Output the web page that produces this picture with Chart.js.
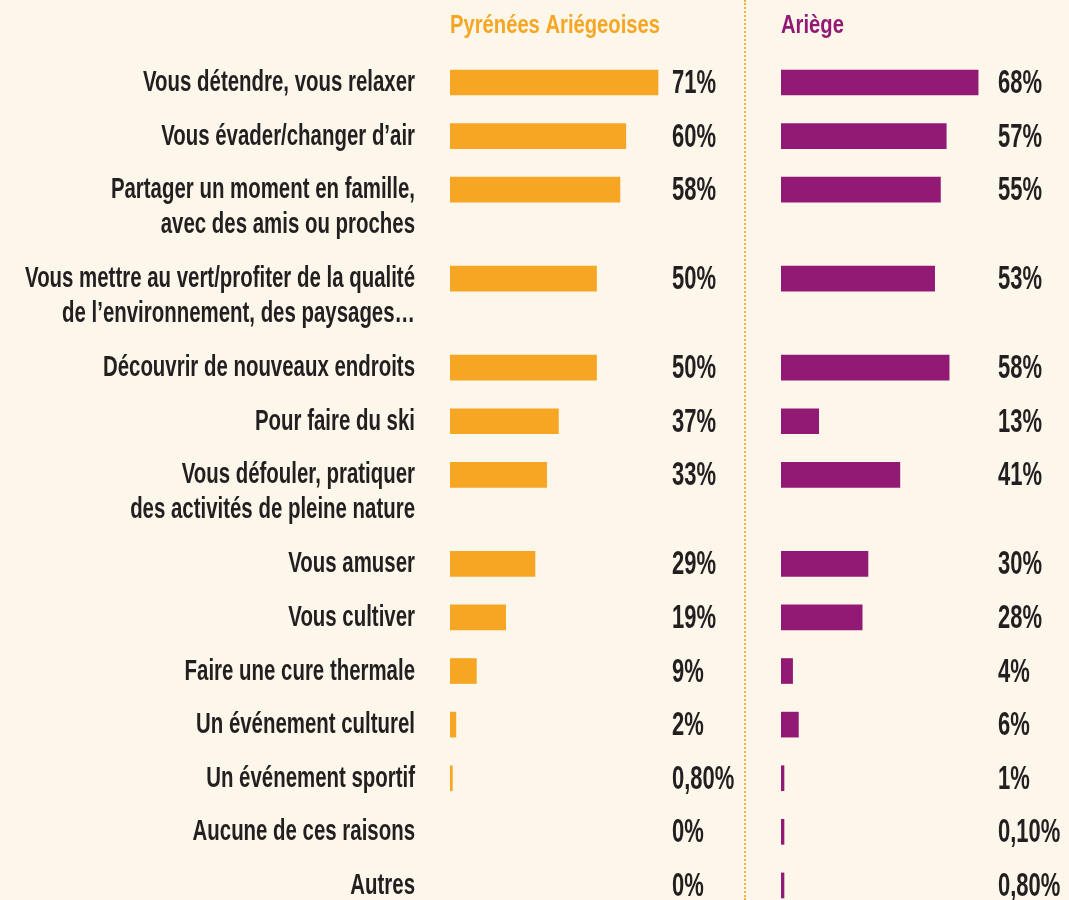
<!DOCTYPE html>
<html>
<head>
<meta charset="utf-8">
<script src="https://cdn.jsdelivr.net/npm/chart.js@4"></script>
<style>
	html, body { margin: 0; padding: 0; background: #fdf6ea; }
	#wrap { position: relative; width: 1069px; height: 900px; overflow: hidden; background: #fdf6ea; }
	#left { position: absolute; left: 0; top: 0; }
	#right { position: absolute; left: 745px; top: 0; }
	#sep { position: absolute; left: 744px; top: 0; height: 900px; width: 0; border-left: 2px dotted #f7b143; }
</style>
</head>
<body>
<div id="wrap">
	<canvas id="left" width="744" height="900"></canvas>
	<div id="sep"></div>
	<canvas id="right" width="324" height="900"></canvas>
</div>
<script>
const categories = [
	"Vous détendre, vous relaxer",
	"Vous évader/changer d’air",
	"Partager un moment en famille,\navec des amis ou proches",
	"Vous mettre au vert/profiter de la qualité\nde l’environnement, des paysages…",
	"Découvrir de nouveaux endroits",
	"Pour faire du ski",
	"Vous défouler, pratiquer\ndes activités de pleine nature",
	"Vous amuser",
	"Vous cultiver",
	"Faire une cure thermale",
	"Un événement culturel",
	"Un événement sportif",
	"Aucune de ces raisons",
	"Autres",
];
const pyreneesValues = [71, 60, 58, 50, 50, 37, 33, 29, 19, 9, 2, 0.8, 0, 0];
const ariegeValues = [68, 57, 55, 53, 58, 13, 41, 30, 28, 4, 6, 1, 0.1, 0.8];
const seriesNames = ["Pyrénées Ariégeoises", "Ariège"];

const orange = "#f6a623";
const purple = "#931a74";
const textColor = "#231f20";

// rows with a two-line label take more room
const rowPx = 53.6;
const firstRowY = 82.5;
const extraLine = 0.66;
const rowPos = [];
categories.forEach((c, i) => {
	if (i === 0) {
		rowPos.push(0);
	} else {
		const prevLines = categories[i - 1].split("\n").length;
		rowPos.push(rowPos[i - 1] + 1 + extraLine * (prevLines - 1));
	}
});

// condensed text: no condensed font installed, so squeeze a normal one
const labelFont = "bold 29px 'Liberation Sans', Arial, sans-serif";
const valueFont = "bold 33px 'Liberation Sans', Arial, sans-serif";
const headFont = "bold 25px 'Liberation Sans', Arial, sans-serif";
const measureCtx = document.createElement("canvas").getContext("2d");
function fitScale(font, text, width) {
	measureCtx.font = font;
	return width / measureCtx.measureText(text).width;
}
const labelScale = fitScale(labelFont, "Vous détendre, vous relaxer", 272);
const valueScale = fitScale(valueFont, "71%", 44);
const headScale = fitScale(headFont, "Pyrénées Ariégeoises", 210);

function drawText(ctx, text, x, y, font, sx, align, color) {
	ctx.save();
	ctx.font = font;
	ctx.fillStyle = color;
	ctx.textAlign = align;
	ctx.textBaseline = "alphabetic";
	ctx.translate(x, y);
	ctx.scale(sx, 1);
	ctx.fillText(text, 0, 0);
	ctx.restore();
}

function formatValue(v) {
	if (Number.isInteger(v)) return v + "%";
	return v.toFixed(2).replace(".", ",") + "%";
}

const valueLabels = {
	id: "valueLabels",
	afterDatasetsDraw(chart, args, opts) {
		const ctx = chart.ctx;
		const meta = chart.getDatasetMeta(0);
		meta.data.forEach((bar, i) => {
			const v = chart.data.datasets[0].data[i].x;
			drawText(ctx, formatValue(v), opts.x, bar.y + 10.5, valueFont, valueScale, "left", textColor);
		});
	},
};

const header = {
	id: "header",
	afterDraw(chart, args, opts) {
		drawText(chart.ctx, opts.text, chart.chartArea.left, 33, headFont, headScale, "left", opts.color);
	},
};

const rowLabels = {
	id: "rowLabels",
	afterDraw(chart, args, opts) {
		if (!opts.show) return;
		const ctx = chart.ctx;
		const y = chart.scales.y;
		categories.forEach((c, i) => {
			const py = y.getPixelForValue(rowPos[i]);
			c.split("\n").forEach((line, k) => {
				drawText(ctx, line, 415, py + 8.5 + k * 35, labelFont, labelScale, "right", textColor);
			});
		});
	},
};

function makeChart(canvasId, values, color, name, padLeft, padRight, xMax, valueX, showLabels, minLen) {
	const h = 900;
	return new Chart(document.getElementById(canvasId), {
		type: "bar",
		data: {
			datasets: [
				{
					label: name,
					data: values.map((v, i) => ({ x: v, y: rowPos[i] })),
					// a zero value gets no bar at all
					backgroundColor: (c) => (c.raw && c.raw.x === 0 ? "rgba(0,0,0,0)" : color),
					barThickness: 25,
					minBarLength: minLen,
					borderWidth: 0,
				},
			],
		},
		options: {
			indexAxis: "y",
			responsive: false,
			animation: false,
			layout: { padding: { left: padLeft, right: padRight, top: 0, bottom: 0 } },
			scales: {
				x: { type: "linear", min: 0, max: xMax, display: false, offset: false },
				y: {
					type: "linear",
					reverse: true,
					offset: false,
					min: -firstRowY / rowPx,
					max: (h - firstRowY) / rowPx,
					display: false,
				},
			},
			plugins: {
				legend: { display: false },
				tooltip: { enabled: false },
				valueLabels: { x: valueX },
				header: { text: name, color: color },
				rowLabels: { show: showLabels },
			},
		},
		plugins: [valueLabels, header, rowLabels],
	});
}

makeChart("left", pyreneesValues, orange, seriesNames[0], 450, 1, 100, 672, true, 0);
makeChart("right", ariegeValues, purple, seriesNames[1], 36, 1, 99, 253, false, 3);
</script>
</body>
</html>
